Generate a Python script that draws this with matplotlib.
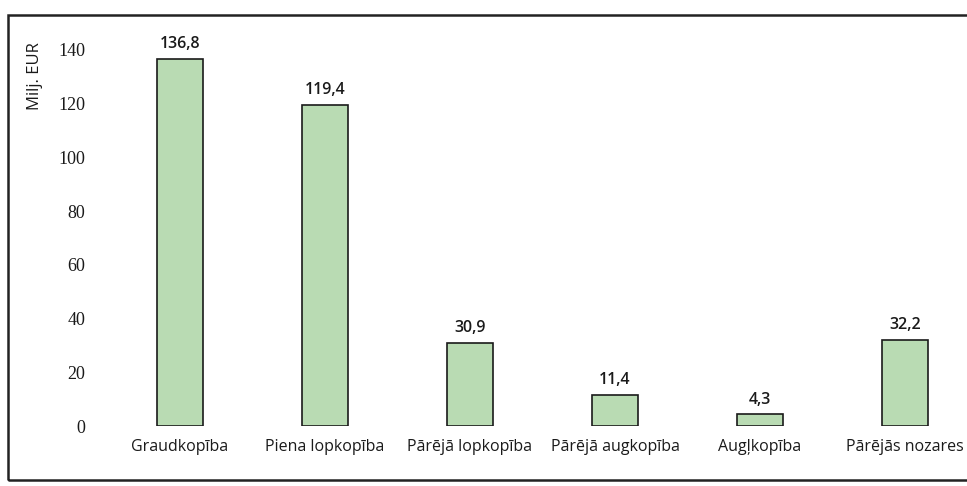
import matplotlib.pyplot as plt
from matplotlib.patches import Rectangle

categories = ["Graudkopība", "Piena lopkopība", "Pārējā lopkopība",
              "Pārējā augkopība", "Augļkopība", "Pārējās nozares"]
values = [136.8, 119.4, 30.9, 11.4, 4.3, 32.2]
value_labels = ["136,8", "119,4", "30,9", "11,4", "4,3", "32,2"]
yticks = [0, 20, 40, 60, 80, 100, 120, 140]


def run_main():
    W, H = 967, 486
    fig = plt.figure(figsize=(W / 100, H / 100), dpi=100)

    # data area placed in pixels
    left, bottom, right, top = 96.7, 60, 967, 436
    ax = fig.add_axes([left / W, bottom / H, (right - left) / W, (top - bottom) / H])

    x = list(range(len(categories)))
    ax.bar(x, values, width=0.32, color="#b9dbb3", edgecolor="#1a1a1a", linewidth=1.2)

    step = 145.0
    xmin = -(180 - left) / step
    ax.set_xlim(xmin, xmin + (right - left) / step)
    ax.set_ylim(0, 140)

    for xi, v, lab in zip(x, values, value_labels):
        ax.annotate(lab, (xi, v), xytext=(0, 5), textcoords="offset points",
                    ha="center", va="bottom", fontsize=11.5, family="Open Sans",
                    fontweight="semibold", color="#1a1a1a")

    ax.set_yticks(yticks)
    ax.set_yticklabels([str(t) for t in yticks], family="Liberation Serif", fontsize=13)
    ax.set_xticks(x)
    ax.set_xticklabels(categories, family="Open Sans", fontsize=11.5)
    ax.tick_params(axis="y", length=0, pad=8, colors="#1a1a1a")
    ax.tick_params(axis="x", length=0, pad=9, colors="#1a1a1a")
    for s in ax.spines.values():
        s.set_visible(False)

    fig.text(35 / W, 1 - 76 / H, "Milj. EUR", rotation=90, ha="center", va="center",
             family="Open Sans", fontsize=12, color="#1a1a1a")

    # outer frame
    fig.patches.append(Rectangle((8 / W, 1 - 480 / H), 1.0, (480 - 15) / H,
                                 transform=fig.transFigure, fill=False,
                                 edgecolor="#222222", linewidth=1.8))

    fig.savefig("out.png", dpi=100)


if __name__ == '__main__':
    run_main()
